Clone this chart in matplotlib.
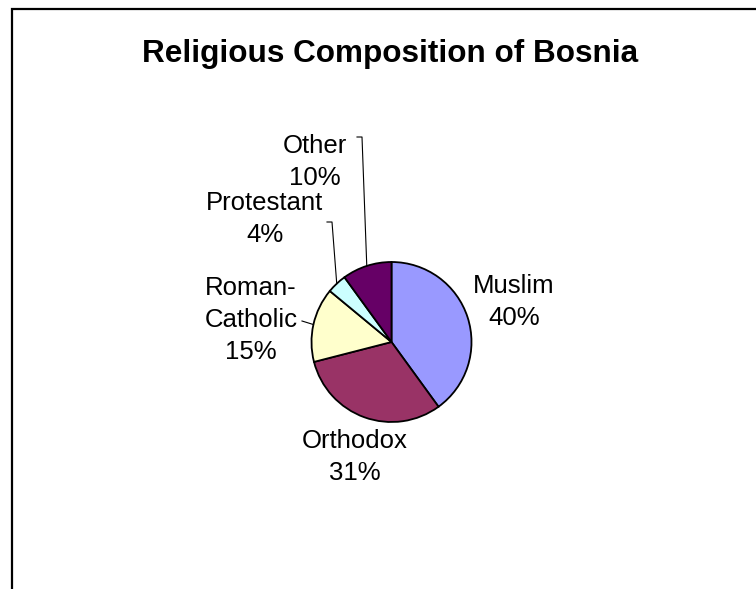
import numpy as np
import matplotlib
matplotlib.use("Agg")
import matplotlib.pyplot as plt

plt.rcParams['font.family'] = ['Liberation Sans', 'DejaVu Sans']

# religion shares (percent), drawn clockwise from 12 o'clock
religions = ["Muslim", "Orthodox", "Roman-\nCatholic", "Protestant", "Other"]
shares = [40, 31, 15, 4, 10]
colors = ["#9999FF", "#993366", "#FFFFCC", "#CCFFFF", "#660066"]

W, H = 756, 589


def py(y):
    """pixel row (top-down) -> data y (bottom-up)"""
    return H - y


fig = plt.figure(figsize=(W / 100, H / 100), dpi=100)
ax = fig.add_axes([0, 0, 1, 1])

cx, cy, r = 391.5, py(342), 80
wedges, _ = ax.pie(shares, colors=colors, startangle=90, counterclock=False,
                   center=(cx, cy), radius=r,
                   wedgeprops=dict(edgecolor='black', linewidth=1.3))
ax.set_xlim(0, W)
ax.set_ylim(0, H)
ax.set_aspect('auto')
ax.axis('off')

# chart frame (only top and left edges fall inside the image)
ax.plot([12, 12, W + 10], [-10, py(9), py(9)], color='black', lw=1.6,
        clip_on=False, solid_joinstyle='miter')

ax.text(390.5, py(62), "Religious Composition of Bosnia", ha='center',
        va='baseline', fontsize=22.7, fontweight='bold')

# label centres and leader elbows (None = no leader line)
label_pos = [(514, 302), (355, 457), (251, 320), (265, 219), (315, 162)]
elbows = [None, None, [(302, 321)], [(327, 222), (332, 222)],
          [(357, 137), (362, 137)]]

for w, name, pct, (lx, ly), elbow in zip(wedges, religions, shares,
                                         label_pos, elbows):
    ax.text(lx, py(ly), f"{name}\n{pct}%", ha='center', va='center',
            multialignment='center', fontsize=18.5, linespacing=1.4)
    if elbow:
        mid = np.deg2rad((w.theta1 + w.theta2) / 2)
        ex, ey = cx + r * np.cos(mid), cy + r * np.sin(mid)
        xs = [p[0] for p in elbow] + [ex]
        ys = [py(p[1]) for p in elbow] + [ey]
        ax.plot(xs, ys, color='black', lw=0.8)

fig.savefig("out.png", dpi=100)
